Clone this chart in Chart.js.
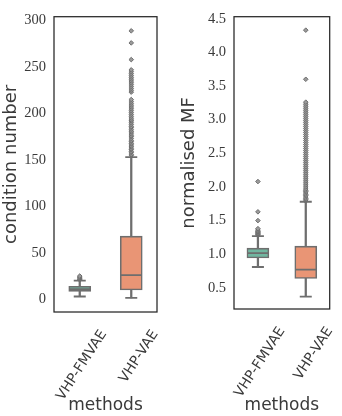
<!DOCTYPE html>
<html>
<head>
<meta charset="utf-8">
<script src="https://cdn.jsdelivr.net/npm/chart.js@4"></script>
<style>
body { margin: 0; background: #fff; }
#wrap { position: relative; width: 342px; height: 416px; }
canvas { position: absolute; top: 0; }
</style>
</head>
<body>
<div id="wrap">
<canvas id="condChart" width="171" height="416" style="left:0"></canvas>
<canvas id="mfChart" width="171" height="416" style="left:171px"></canvas>
</div>
<script>
const methods = ['VHP-FMVAE', 'VHP-VAE'];

// condition number
const condLow = [3, 1.5];
const condQ1 = [8.5, 10];
const condMedian = [11, 26];
const condQ3 = [14, 68];
const condHigh = [20, 153];
const condFliersFMVAE = [21, 22, 23, 24, 25];
const condFliersVAE = [155, 156, 158, 159, 161, 162, 164, 165, 167, 168, 170, 171, 173, 175, 176, 178,
  180, 181, 183, 185, 186, 188, 190, 192, 193, 195, 197, 199, 201, 203, 205, 207, 209, 211, 213, 215,
  223, 225, 227, 229, 231, 233, 235, 237, 239, 241, 243, 245, 247, 258, 276, 289];
const condTicks = [0, 50, 100, 150, 200, 250, 300];
const condTickLabels = ['0', '50', '100', '150', '200', '250', '300'];

// normalised MF
const mfLow = [0.81, 0.37];
const mfQ1 = [0.945, 0.64];
const mfMedian = [1.015, 0.77];
const mfQ3 = [1.09, 1.12];
const mfHigh = [1.27, 1.78];
const mfFliersFMVAE = [1.285, 1.295, 1.305, 1.315, 1.325, 1.335, 1.345, 1.36, 1.38, 1.5, 1.63, 2.08];
const mfFliersVAE = [1.79, 1.81, 1.83, 1.85, 1.87, 1.89, 1.91, 1.93, 1.95, 1.97, 2.0, 2.03, 2.06, 2.09,
  2.12, 2.15, 2.18, 2.21, 2.24, 2.27, 2.3, 2.33, 2.36, 2.39, 2.42, 2.45, 2.48, 2.51, 2.54, 2.57, 2.6,
  2.63, 2.66, 2.69, 2.72, 2.75, 2.78, 2.81, 2.84, 2.87, 2.9, 2.93, 2.96, 2.99, 3.02, 3.05, 3.08, 3.11,
  3.14, 3.17, 3.2, 3.23, 3.26, 3.6, 4.33];
const mfTicks = [0.5, 1.0, 1.5, 2.0, 2.5, 3.0, 3.5, 4.0, 4.5];
const mfTickLabels = ['0.5', '1.0', '1.5', '2.0', '2.5', '3.0', '3.5', '4.0', '4.5'];

const boxColors = ['#71b6a0', '#e99575'];
const lineGray = '#6e6e6e';
const textColor = '#3a3a3a';

// frame round the axes, like matplotlib's spines
const frame = {
  id: 'frame',
  afterDatasetsDraw(chart) {
    const {ctx, chartArea: a} = chart;
    ctx.save();
    ctx.strokeStyle = '#262626';
    ctx.lineWidth = 1.25;
    ctx.strokeRect(a.left, a.top, a.right - a.left, a.bottom - a.top);
    ctx.restore();
  }
};

function boxChart(id, o) {
  const fliers = [];
  o.fliers.forEach((vals, i) => vals.forEach(v => fliers.push({x: methods[i], y: v})));
  const caps = [];
  methods.forEach((m, i) => { caps.push({x: m, y: o.low[i]}); caps.push({x: m, y: o.high[i]}); });

  return new Chart(document.getElementById(id), {
    type: 'bar',
    data: {
      labels: methods,
      datasets: [
        {
          type: 'line', data: o.median, showLine: false, order: 0,
          pointStyle: 'line', pointRadius: 10.5, pointBorderWidth: 1.8, pointBorderColor: lineGray
        },
        {
          type: 'bar', data: o.q1.map((v, i) => [v, o.q3[i]]), order: 1, grouped: false,
          backgroundColor: boxColors, borderColor: lineGray, borderWidth: 1.6,
          borderSkipped: false, barThickness: 22
        },
        {
          type: 'line', data: caps, showLine: false, order: 2,
          pointStyle: 'line', pointRadius: 6, pointBorderWidth: 1.8, pointBorderColor: lineGray
        },
        {
          type: 'bar', data: o.low.map((v, i) => [v, o.high[i]]), order: 3, grouped: false,
          backgroundColor: lineGray, borderWidth: 0, barThickness: 1.6
        },
        {
          type: 'line', data: fliers, showLine: false, order: 4,
          pointStyle: 'rectRot', pointRadius: 2.3, pointBorderWidth: 1,
          pointBackgroundColor: '#9a9a9a', pointBorderColor: lineGray
        }
      ]
    },
    options: {
      responsive: false,
      animation: false,
      events: [],
      layout: { padding: o.padding },
      plugins: { legend: { display: false }, tooltip: { enabled: false } },
      scales: {
        x: {
          grid: { display: false, drawTicks: false },
          border: { display: false },
          ticks: {
            autoSkip: false, minRotation: 57, maxRotation: 57, labelOffset: 24, padding: 15,
            color: textColor, font: { family: 'DejaVu Sans', size: 14 }
          },
          title: {
            display: true, text: 'methods', color: textColor,
            font: { family: 'DejaVu Sans', size: 17 }, padding: { top: 0, bottom: 0 }
          },
          afterFit: s => { s.height = o.xHeight; }
        },
        y: {
          min: o.min, max: o.max,
          grid: { display: false, drawTicks: false },
          border: { display: false },
          afterBuildTicks: s => { s.ticks = o.ticks.map(v => ({value: v})); },
          ticks: {
            padding: 8, color: textColor, font: { family: 'Liberation Serif', size: 14.5 },
            callback: (v, i) => o.tickLabels[i]
          },
          title: {
            display: true, text: o.yTitle, color: textColor,
            font: { family: 'DejaVu Sans', size: 18 }, padding: o.yTitlePad
          },
          afterFit: s => { s.width = o.yWidth; }
        }
      }
    },
    plugins: [frame]
  });
}

boxChart('condChart', {
  low: condLow, q1: condQ1, median: condMedian, q3: condQ3, high: condHigh,
  fliers: [condFliersFMVAE, condFliersVAE],
  min: -13.7, max: 304.2, ticks: condTicks, tickLabels: condTickLabels,
  yTitle: 'condition number', yTitlePad: { top: 1, bottom: 0 },
  padding: { top: 11, right: 14, left: 0, bottom: 0 }, yWidth: 54, xHeight: 104
});

boxChart('mfChart', {
  low: mfLow, q1: mfQ1, median: mfMedian, q3: mfQ3, high: mfHigh,
  fliers: [mfFliersFMVAE, mfFliersVAE],
  min: 0.186, max: 4.53, ticks: mfTicks, tickLabels: mfTickLabels,
  yTitle: 'normalised MF', yTitlePad: { top: 8, bottom: 0 },
  padding: { top: 3, right: 3, left: 0, bottom: 0 }, yWidth: 63, xHeight: 107
});
</script>
</body>
</html>
